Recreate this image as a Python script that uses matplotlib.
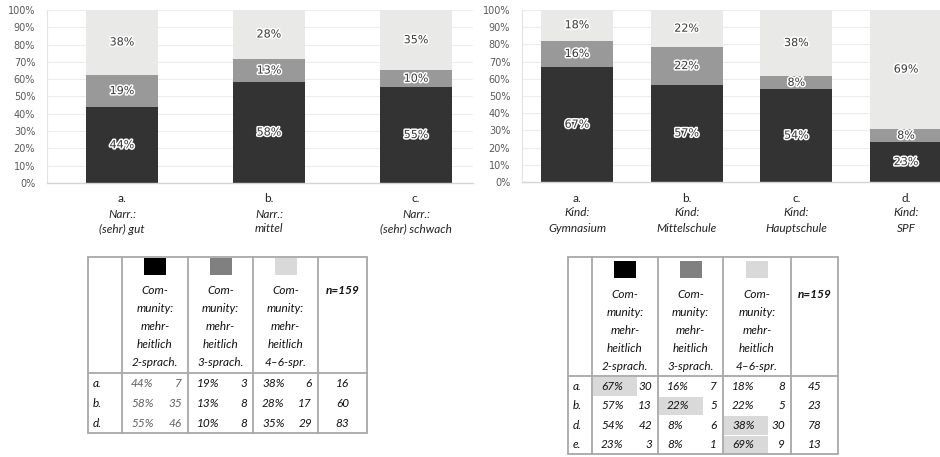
import matplotlib
matplotlib.use("Agg")
import matplotlib.pyplot as plt
import matplotlib.patheffects as pe
from matplotlib.patches import Rectangle
import numpy as np

W, H = 940, 457

# ---------------- data ----------------
left_letters = ["a.", "b.", "c."]
left_line1 = ["Narr.:", "Narr.:", "Narr.:"]
left_line2 = ["(sehr) gut", "mittel", "(sehr) schwach"]
left_n2 = [7, 35, 46]      # Community mehrheitlich 2-sprachig
left_n3 = [3, 8, 8]        # 3-sprachig
left_n46 = [6, 17, 29]     # 4-6-sprachig
left_table_rows = ["a.", "b.", "d."]
left_highlight = []

right_letters = ["a.", "b.", "c.", "d."]
right_line1 = ["Kind:", "Kind:", "Kind:", "Kind:"]
right_line2 = ["Gymnasium", "Mittelschule", "Hauptschule", "SPF"]
right_n2 = [30, 13, 42, 3]
right_n3 = [7, 5, 6, 1]
right_n46 = [8, 5, 30, 9]
right_table_rows = ["a.", "b.", "d.", "e."]
right_highlight = [(0, 0), (1, 1), (2, 2), (3, 2)]

header_lines = [
    ["Com-", "munity:", "mehr-", "heitlich", "2-sprach."],
    ["Com-", "munity:", "mehr-", "heitlich", "3-sprach."],
    ["Com-", "munity:", "mehr-", "heitlich", "4\u20136-spr."],
]
n_label = "n=159"
ytick_vals = list(range(0, 101, 10))

bar_colors = ["#333333", "#999999", "#e9e9e7"]
square_colors = ["#000000", "#808080", "#d9d9d9"]

FONT = "Lato"
TFS = 8.5

fig = plt.figure(figsize=(W / 100, H / 100), dpi=100)


def px_axes(x0, y0, x1, y1):
    return fig.add_axes([x0 / W, 1 - y1 / H, (x1 - x0) / W, (y1 - y0) / H])


def pct_round(v):
    return int(np.floor(v + 0.5))


def bar_chart(ax, series, letters, line1, line2, xlim, width):
    counts = np.array(series, dtype=float)
    pct = counts / counts.sum(axis=0) * 100
    x = np.arange(len(letters))
    bottom = np.zeros(len(letters))
    for i in range(len(series)):
        ax.bar(x, pct[i], bottom=bottom, width=width, color=bar_colors[i],
               edgecolor="none", zorder=2)
        for xi, b, p in zip(x, bottom, pct[i]):
            ax.text(xi, b + p / 2, f"{pct_round(p)}%", ha="center", va="center",
                    fontsize=8, color="#3a3a3a", zorder=3,
                    path_effects=[pe.withStroke(linewidth=2.2, foreground="white")])
        bottom = bottom + pct[i]
    ax.set_ylim(0, 100)
    ax.set_xlim(*xlim)
    ax.set_yticks(ytick_vals)
    ax.set_yticklabels([f"{v}%" for v in ytick_vals])
    ax.tick_params(axis="y", length=0, pad=8.5, labelsize=7, labelcolor="#595959")
    ax.set_xticks([])
    ax.yaxis.grid(True, color="#ededed", lw=0.8)
    ax.set_axisbelow(True)
    for s in ["top", "right"]:
        ax.spines[s].set_visible(False)
    ax.spines["left"].set_color("#e3e3e3")
    ax.spines["bottom"].set_color("#d4d4d4")
    ax.spines["bottom"].set_linewidth(1.0)
    for xi, l0, l1, l2 in zip(x, letters, line1, line2):
        ax.annotate(l0, xy=(xi, 0), xycoords=("data", "axes fraction"),
                    xytext=(0, -16), textcoords="offset pixels", ha="center",
                    va="center", fontsize=8.5, family=FONT, color="#222222")
        ax.annotate(l1, xy=(xi, 0), xycoords=("data", "axes fraction"),
                    xytext=(0, -31), textcoords="offset pixels", ha="center",
                    va="center", fontsize=8.5, family=FONT, style="italic", color="#222222")
        ax.annotate(l2, xy=(xi, 0), xycoords=("data", "axes fraction"),
                    xytext=(0, -46), textcoords="offset pixels", ha="center",
                    va="center", fontsize=8.5, family=FONT, style="italic", color="#222222")


# left chart: px 47..473, 10..183 ; centers 122, 269, 416
axL = px_axes(47, 10, 473, 183)
bar_chart(axL, [left_n2, left_n3, left_n46], left_letters, left_line1, left_line2,
          (-75 / 147, 351 / 147), 72 / 147)

# right chart: px 522..(beyond), 10..182 ; centers 577, 686.5, 796, 906
axR = px_axes(522, 10, 960, 182)
bar_chart(axR, [right_n2, right_n3, right_n46], right_letters, right_line1, right_line2,
          (-55 / 109.7, 383 / 109.7), 72 / 109.7)

# ---------------- tables ----------------
tax = fig.add_axes([0, 0, 1, 1])
tax.set_xlim(0, W)
tax.set_ylim(H, 0)
tax.axis("off")

BORDER = "#a8a8a8"


def draw_table(cols, y_top, y_head, row_h, rows, series, highlight, head_y0, sq_y,
               gray_first=False):
    nrows = len(rows)
    y_bot = y_head + row_h * nrows
    counts = np.array(series, dtype=float)
    tot = counts.sum(axis=0)
    pct = counts / tot * 100
    # highlight cells
    for (r, c) in highlight:
        tax.add_patch(Rectangle((cols[c + 1] + 1, y_head + r * row_h + 1), 44, row_h - 1,
                                facecolor="#d9d9d9", edgecolor="none", zorder=1))
    # borders
    tax.add_patch(Rectangle((cols[0], y_top), cols[-1] - cols[0], y_bot - y_top,
                            fill=False, edgecolor=BORDER, lw=1.3, zorder=3))
    for xc in cols[1:-1]:
        tax.plot([xc, xc], [y_top, y_bot], color=BORDER, lw=1.3, zorder=3)
    tax.plot([cols[0], cols[-1]], [y_head, y_head], color=BORDER, lw=1.3, zorder=3)
    # header
    for j in range(3):
        cx = (cols[j + 1] + cols[j + 2]) / 2
        tax.add_patch(Rectangle((cx - 11, sq_y), 22, 17, facecolor=square_colors[j],
                                edgecolor="none", zorder=2))
        for k, line in enumerate(header_lines[j]):
            tax.text(cx, head_y0 + k * 18, line, ha="center", va="center",
                     fontsize=TFS, family=FONT, style="italic", color="#111111", zorder=4)
    tax.text((cols[4] + cols[5]) / 2, head_y0, n_label, ha="center", va="center",
             fontsize=TFS, family=FONT, style="italic", weight="bold", color="#111111",
             zorder=4)
    # rows
    for r in range(nrows):
        cy = y_head + r * row_h + row_h / 2 + 0.5
        tax.text(cols[0] + 5, cy, rows[r], ha="left", va="center", fontsize=TFS,
                 family=FONT, style="italic", color="#111111", zorder=4)
        for j in range(3):
            col = "#606060" if (gray_first and j == 0) else "#111111"
            tax.text(cols[j + 1] + 9, cy, f"{pct_round(pct[j][r])}%", ha="left",
                     va="center", fontsize=TFS, family=FONT, style="italic", color=col,
                     zorder=4)
            tax.text(cols[j + 2] - 6, cy, f"{int(counts[j][r])}", ha="right",
                     va="center", fontsize=TFS, family=FONT, style="italic", color=col,
                     zorder=4)
        tax.text((cols[4] + cols[5]) / 2, cy, f"{int(tot[r])}", ha="center",
                 va="center", fontsize=TFS, family=FONT, style="italic", color="#111111",
                 zorder=4)


draw_table([88, 122, 188, 253, 318, 367], 257, 373, 20, left_table_rows,
           [left_n2, left_n3, left_n46], left_highlight, 290, 258, gray_first=True)
draw_table([568, 592, 658, 723, 791, 838], 257, 376, 19.5, right_table_rows,
           [right_n2, right_n3, right_n46], right_highlight, 294, 261)

fig.savefig("out.png", dpi=100)
